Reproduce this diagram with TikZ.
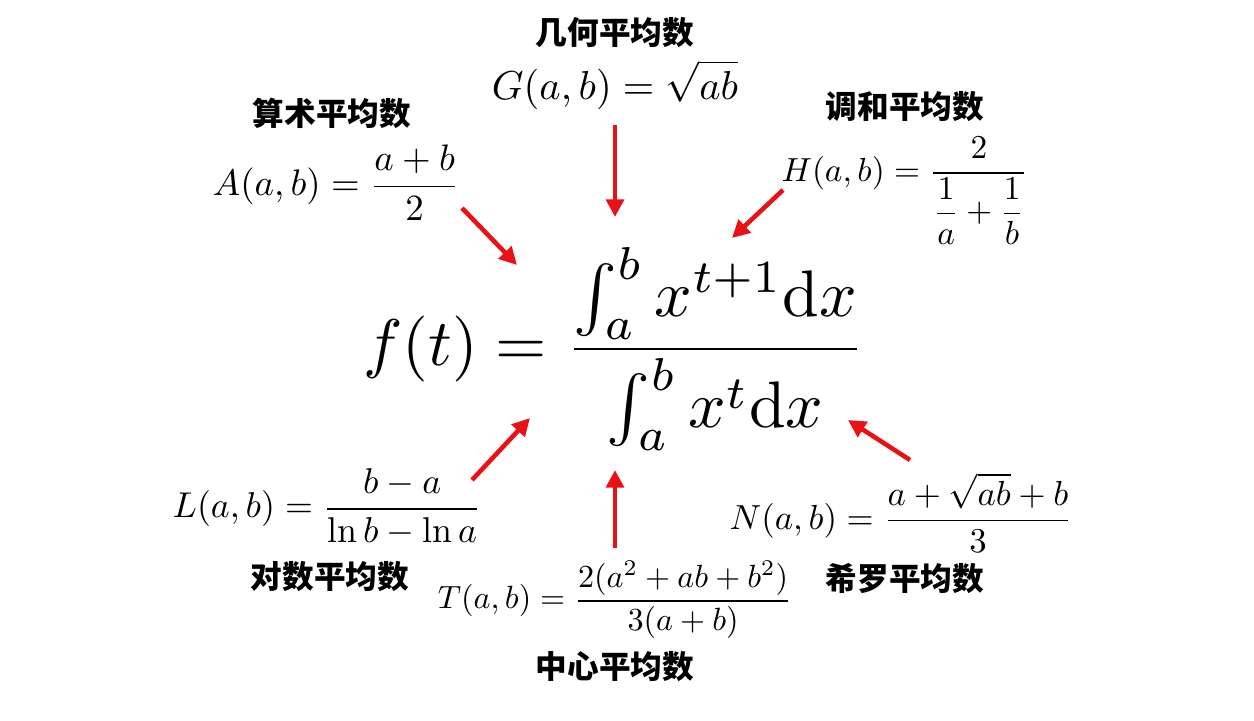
\documentclass[tikz,border=0pt]{standalone}
\usepackage{amsmath}
\usepackage{fontspec}
\newfontfamily\cjk{Noto Sans CJK SC}
\usepackage{xcolor}
\usepackage{tikz}
\usetikzlibrary{arrows.meta}
\definecolor{meanred}{RGB}{232,18,22}
\newcommand{\meanformula}[4]{%
  \node[scale=#3] (#1) at (#2) {$\displaystyle #4$};}
\tikzset{
  meanlbl/.style={font=\fontsize{18}{20}\selectfont\cjk\bfseries,inner sep=1pt},
  redarrow/.style={draw=meanred,line width=2.6pt,-{Triangle[length=10pt,width=10pt]}}
}

\begin{document}
\begin{tikzpicture}[x=0.02cm,y=-0.02cm]
  \useasboundingbox (0,0) rectangle (1254,720);
  % the main formula
  \node[scale=3.75] (ft) at (614,349)
    {$\displaystyle f(t)=\frac{\int_a^b x^{t+1}\mathrm{d}x}{\int_a^b x^{t}\mathrm{d}x}$};
  % the six means
  \meanformula{G}{615,85}{2.3}{G(a,b)=\sqrt{ab}}
  \meanformula{A}{336,183}{2.1}{A(a,b)=\frac{a+b}{2}}
  \meanformula{H}{905,191}{1.9}{H(a,b)=\frac{2}{\dfrac{1}{a}+\dfrac{1}{b}}}
  \meanformula{L}{327,507}{2.04}{L(a,b)=\frac{b-a}{\ln b-\ln a}}
  \meanformula{T}{615,600}{1.83}{T(a,b)=\frac{2(a^2+ab+b^2)}{3(a+b)}}
  \meanformula{N}{901,513}{1.98}{N(a,b)=\frac{a+\sqrt{ab}+b}{3}}
  \foreach \n/\x/\y/\t in {G/615/33/几何平均数, A/332/113/算术平均数,
      H/905/107/调和平均数, L/330/577/对数平均数,
      T/615/667/中心平均数, N/905/578/希罗平均数}
    {\node[meanlbl] (\n-lbl) at (\x,\y) {\t};}
  % arrows into f(t)
  \foreach \n/\xa/\ya/\xb/\yb in {G/615/125/615/217, A/462/208/517/265,
      H/783/190/732/238, L/472/480/530/418,
      T/615/548/615/470, N/910/460/848/420}
    {\coordinate (\n-tail) at (\xa,\ya);
     \coordinate (\n-tip) at (\xb,\yb);
     \draw[redarrow] (\n-tail) -- (\n-tip);}
\end{tikzpicture}
\end{document}
